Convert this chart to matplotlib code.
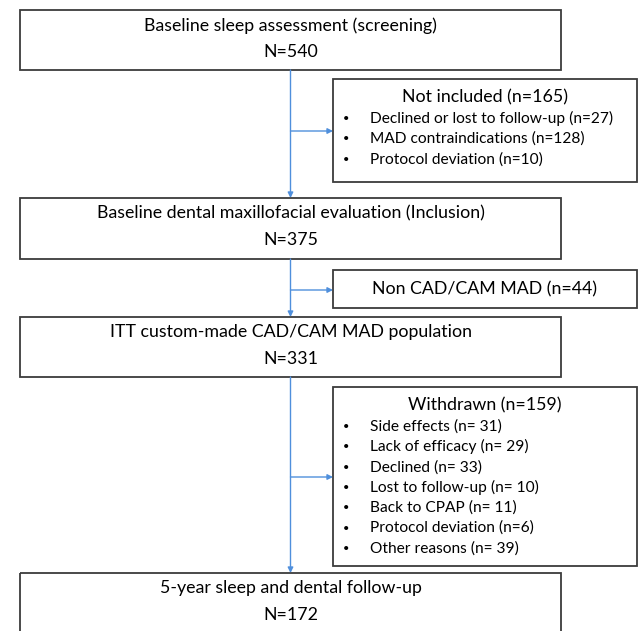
import matplotlib
matplotlib.use("Agg")
import matplotlib.pyplot as plt
from matplotlib.patches import Rectangle

plt.rcParams["font.family"] = ["Lato", "DejaVu Sans"]

# flow stages (main column)
stage_labels = [
    "Baseline sleep assessment (screening)",
    "Baseline dental maxillofacial evaluation (Inclusion)",
    "ITT custom-made CAD/CAM MAD population",
    "5-year sleep and dental follow-up",
]
stage_n = [540, 375, 331, 172]

# side boxes (exclusions)
side_titles = ["Not included (n=165)", "Non CAD/CAM MAD (n=44)", "Withdrawn (n=159)"]
not_included_items = [
    "Declined or lost to follow-up (n=27)",
    "MAD contraindications (n=128)",
    "Protocol deviation (n=10)",
]
withdrawn_items = [
    "Side effects (n= 31)",
    "Lack of efficacy (n= 29)",
    "Declined (n= 33)",
    "Lost to follow-up (n= 10)",
    "Back to CPAP (n= 11)",
    "Protocol deviation (n=6)",
    "Other reasons (n= 39)",
]
side_items = [not_included_items, [], withdrawn_items]

# layout (pixels)
main_x0, main_x1 = 20, 561
side_x0, side_x1 = 333, 637
line_x = 290.5
main_boxes = [(10, 70), (198, 259), (317, 377), (573, 640)]
side_boxes = [(79, 182), (270, 308), (387, 566)]
branch_y = [131, 290, 477]

edge = "#3c3c3c"
blue = "#4f8fdc"

fig = plt.figure(figsize=(6.38, 6.31), dpi=100)
ax = fig.add_axes([0, 0, 1, 1])
ax.set_xlim(0, 638)
ax.set_ylim(631, 0)
ax.axis("off")

for (y0, y1), label, n in zip(main_boxes, stage_labels, stage_n):
    ax.add_patch(Rectangle((main_x0, y0), main_x1 - main_x0, y1 - y0,
                           fill=False, ec=edge, lw=1.3))
    ax.text(line_x, y0 + 15.5, label, ha="center", va="center", fontsize=12.8)
    ax.text(line_x, y0 + 42, f"N={n}", ha="center", va="center", fontsize=12.8)

cx = (side_x0 + side_x1) / 2
for (y0, y1), title, items in zip(side_boxes, side_titles, side_items):
    ax.add_patch(Rectangle((side_x0, y0), side_x1 - side_x0, y1 - y0,
                           fill=False, ec=edge, lw=1.3))
    if items:
        ax.text(cx, y0 + 18, title, ha="center", va="center", fontsize=12.8)
        for i, item in enumerate(items):
            yy = y0 + 39.5 + i * 20.3
            ax.text(side_x0 + 13, yy, "•", ha="center", va="center", fontsize=8)
            ax.text(side_x0 + 37, yy, item, ha="left", va="center", fontsize=11.2)
    else:
        ax.text(cx, (y0 + y1) / 2, title, ha="center", va="center", fontsize=12.8)

# vertical arrows between main boxes
arrow = dict(arrowstyle="-|>", color=blue, lw=1, mutation_scale=8, shrinkA=0, shrinkB=0)
for (a0, a1), (b0, b1) in zip(main_boxes[:-1], main_boxes[1:]):
    ax.annotate("", xy=(line_x, b0), xytext=(line_x, a1), arrowprops=arrow)

# branches to the side boxes
for y in branch_y:
    ax.annotate("", xy=(side_x0, y), xytext=(line_x, y), arrowprops=arrow)

fig.savefig("out.png", dpi=100)
